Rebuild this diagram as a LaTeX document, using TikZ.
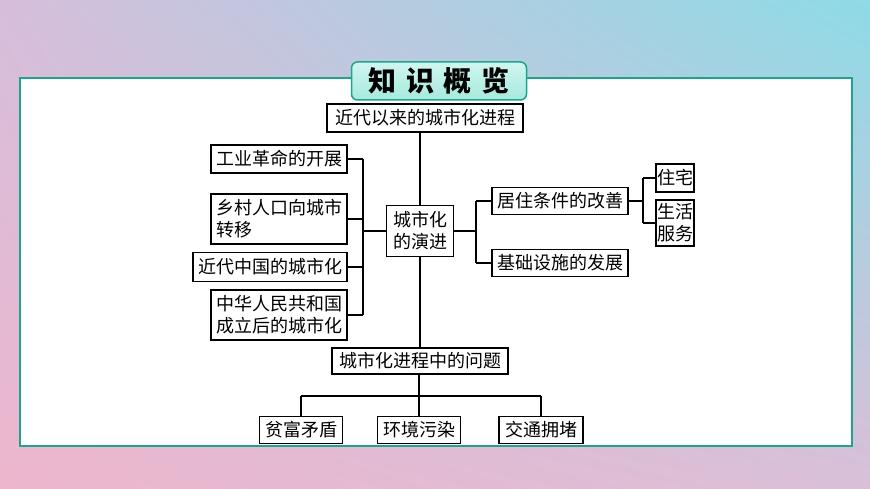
\documentclass[tikz,border=0pt]{standalone}
\usepackage{fontspec}
\usetikzlibrary{shadings}
\newfontfamily\cjk{Noto Sans CJK SC}
\definecolor{bgUL}{HTML}{D6BEDB}
\definecolor{bgUR}{HTML}{8EDBE6}
\definecolor{bgLL}{HTML}{EDB6CD}
\definecolor{bgLR}{HTML}{DABFD8}
\definecolor{tealb}{HTML}{1EA38C}
\definecolor{mintA}{HTML}{CFF6EF}
\definecolor{mintB}{HTML}{A6E9DD}
\tikzset{
  box/.style={draw=black, line width=1.2pt, fill=white, inner sep=0pt,
    font=\cjk\fontsize{18pt}{22pt}\selectfont, align=left},
  conn/.style={line width=1.2pt, draw=black},
}
\begin{document}
\begin{tikzpicture}[x=1pt,y=-1pt]
\useasboundingbox (0,0) rectangle (870,489);
\shade[upper left=bgUL, upper right=bgUR, lower left=bgLL, lower right=bgLR] (0,0) rectangle (870,489);
\draw[tealb, line width=2pt, fill=white] (20,78) rectangle (852,446);
\node[draw=tealb, line width=1.5pt, rounded corners=6pt, top color=mintA, bottom color=mintB,
  minimum width=175pt, minimum height=38pt, inner sep=0pt,
  font=\cjk\bfseries\fontsize{28pt}{32pt}\selectfont] (title) at (439,81)
  {知\hspace{10pt}识\hspace{10pt}概\hspace{10pt}览};

\node[box, minimum width=196pt, minimum height=28pt] (top) at (425,118) {近代以来的城市化进程};
\node[box, minimum width=67pt, minimum height=51pt] (ctr) at (420,231) {城市化\\的演进};
\node[box, minimum width=136pt, minimum height=28pt] (l1) at (279,159) {工业革命的开展};
\node[box, minimum width=136pt, minimum height=50pt] (l2) at (279,219) {乡村人口向城市\\转移};
\node[box, minimum width=154pt, minimum height=29pt] (l3) at (270,267) {近代中国的城市化};
\node[box, minimum width=136pt, minimum height=50pt] (l4) at (279,315) {中华人民共和国\\成立后的城市化};
\node[box, minimum width=136pt, minimum height=27pt] (r1) at (560,201) {居住条件的改善};
\node[box, minimum width=136pt, minimum height=27pt] (r2) at (560,263) {基础设施的发展};
\node[box, minimum width=38pt, minimum height=28pt] (rr1) at (675,178) {住宅};
\node[box, minimum width=38pt, minimum height=46pt] (rr2) at (675,223) {生活\\服务};
\node[box, minimum width=176pt, minimum height=26pt] (bot) at (420,361) {城市化进程中的问题};
\node[box, minimum width=83pt, minimum height=27pt] (b1) at (301,430) {贫富矛盾};
\node[box, minimum width=83pt, minimum height=27pt] (b2) at (419,430) {环境污染};
\node[box, minimum width=84pt, minimum height=27pt] (b3) at (541,430) {交通拥堵};

\coordinate (lb) at (363,231);
\coordinate (rb) at (476,231);
\coordinate (rrb) at (643,201);
\coordinate (bb) at (419,396);

\draw[conn] (ctr.north) -- (ctr.north |- top.south);
\draw[conn] (ctr.west) -- (lb);
\draw[conn] (l1.east -| lb) -- (l4.east -| lb);
\draw[conn] (l1.east) -- (l1.east -| lb);
\draw[conn] (l2.east) -- (l2.east -| lb);
\draw[conn] (l3.east) -- (l3.east -| lb);
\draw[conn] (l4.east) -- (l4.east -| lb);

\draw[conn] (ctr.east) -- (rb);
\draw[conn] (r1.west -| rb) -- (r2.west -| rb);
\draw[conn] (r1.west) -- (r1.west -| rb);
\draw[conn] (r2.west) -- (r2.west -| rb);

\draw[conn] (r1.east) -- (rrb);
\draw[conn] (rr1.west -| rrb) -- (rr2.west -| rrb);
\draw[conn] (rr1.west) -- (rr1.west -| rrb);
\draw[conn] (rr2.west) -- (rr2.west -| rrb);

\draw[conn] (ctr.south) -- (ctr.south |- bot.north);
\draw[conn] (bot.south -| bb) -- (bb);
\draw[conn] (b1.north |- bb) -- (b3.north |- bb);
\draw[conn] (b1.north) -- (b1.north |- bb);
\draw[conn] (b2.north) -- (b2.north |- bb);
\draw[conn] (b3.north) -- (b3.north |- bb);
\end{tikzpicture}
\end{document}
